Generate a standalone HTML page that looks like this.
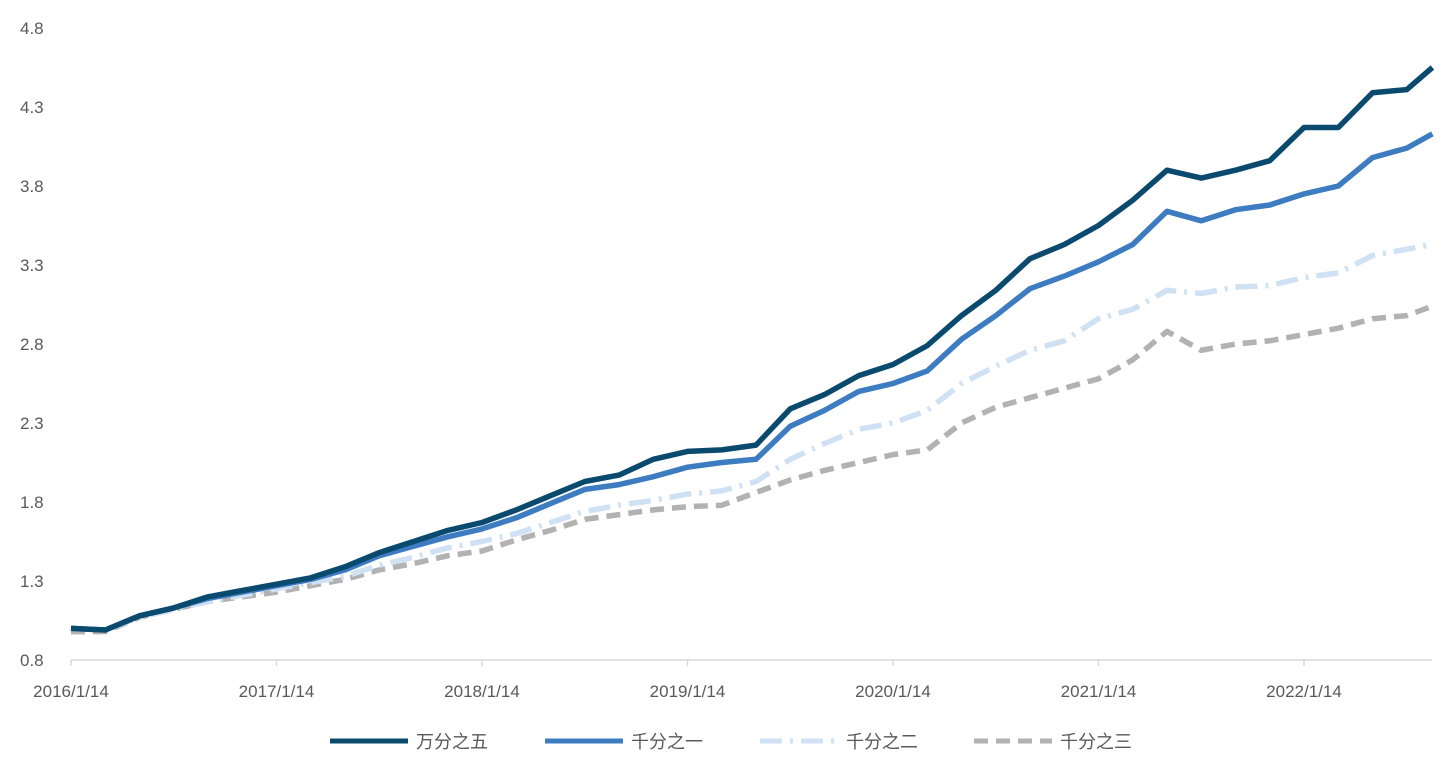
<!DOCTYPE html>
<html><head><meta charset="utf-8"><style>
body{margin:0;background:#fff;width:1452px;height:768px;overflow:hidden;font-family:"Liberation Sans","Noto Sans CJK SC",sans-serif}
</style></head><body>
<svg id="chart" width="1452" height="768" xmlns="http://www.w3.org/2000/svg"></svg>
<script>
const xLabels=["2016/1/14","2017/1/14","2018/1/14","2019/1/14","2020/1/14","2021/1/14","2022/1/14"];
const yTicks=[0.8,1.3,1.8,2.3,2.8,3.3,3.8,4.3,4.8];
const months=[0,2,4,6,8,10,12,14,16,18,20,22,24,26,28,30,32,34,36,38,40,42,44,46,48,50,52,54,56,58,60,62,64,66,68,70,72,74,76,78,79.5];
const s1=[1.0,0.99,1.08,1.13,1.2,1.24,1.28,1.32,1.39,1.48,1.55,1.62,1.67,1.75,1.84,1.93,1.97,2.07,2.12,2.13,2.16,2.39,2.48,2.6,2.67,2.79,2.98,3.14,3.34,3.43,3.55,3.71,3.9,3.85,3.9,3.96,4.17,4.17,4.39,4.41,4.55];
const s2=[1.0,0.99,1.08,1.13,1.19,1.23,1.27,1.31,1.37,1.46,1.52,1.58,1.63,1.7,1.79,1.88,1.91,1.96,2.02,2.05,2.07,2.28,2.38,2.5,2.55,2.63,2.83,2.98,3.15,3.23,3.32,3.43,3.64,3.58,3.65,3.68,3.75,3.8,3.98,4.04,4.13];
const s3=[1.0,0.99,1.07,1.12,1.17,1.21,1.25,1.29,1.33,1.4,1.45,1.51,1.55,1.6,1.67,1.74,1.78,1.81,1.85,1.87,1.93,2.07,2.17,2.26,2.3,2.38,2.55,2.66,2.76,2.82,2.96,3.02,3.14,3.12,3.16,3.17,3.22,3.25,3.36,3.4,3.43];
const s4=[0.98,0.98,1.07,1.12,1.17,1.2,1.23,1.27,1.31,1.37,1.41,1.46,1.49,1.56,1.62,1.69,1.72,1.75,1.77,1.78,1.86,1.94,2.0,2.05,2.1,2.13,2.3,2.4,2.46,2.52,2.58,2.7,2.88,2.76,2.8,2.82,2.86,2.9,2.96,2.98,3.04];
const names=["万分之五","千分之一","千分之二","千分之三"];

const NS="http://www.w3.org/2000/svg",svg=document.getElementById('chart');
const X=m=>71+m*(205.5/12);
const Y=v=>660-(v-0.8)*158;
function mk(t,a,p){const e=document.createElementNS(NS,t);for(const k in a)e.setAttribute(k,a[k]);(p||svg).appendChild(e);return e;}

yTicks.forEach(v=>{
  const t=mk('text',{x:20,y:Y(v)+6,'font-size':17,fill:'#595959'});
  t.textContent=v.toFixed(1);
  
  
});
const ax=mk('line',{x1:71,y1:660,x2:1432,y2:660,stroke:'#d9d9d9','stroke-width':1.5});


xLabels.forEach((l,i)=>{
  const x=X(i*12);
  const tk=mk('line',{x1:x,y1:660,x2:x,y2:666,stroke:'#d9d9d9','stroke-width':1.5});
  
  
  const t=mk('text',{x:x,y:697,'font-size':17,fill:'#595959','text-anchor':'middle'});
  t.textContent=l;
  
  
});
const styles=[
 {c:'#0b4a6f',d:''},
 {c:'#3d7cc0',d:''},
 {c:'#cfe1f2',d:'22 8 3 8'},
 {c:'#b2b2b2',d:'14 8'}
];
const series=[s1,s2,s3,s4];
[3,2,1,0].forEach(i=>{
  const d=series[i].map((v,j)=>(j?'L':'M')+X(months[j]).toFixed(1)+','+Y(v).toFixed(1)).join('');
  const p=mk('path',{d:d,fill:'none',stroke:styles[i].c,'stroke-width':5.5,'stroke-linejoin':'round','stroke-dasharray':styles[i].d});
  
  
});
const lx=[330,545,760,974];
names.forEach((n,i)=>{
  const g=mk('g',{});
  
  
  mk('line',{x1:lx[i],y1:741,x2:lx[i]+78,y2:741,stroke:styles[i].c,'stroke-width':5,'stroke-dasharray':styles[i].d},g);
  const t=mk('text',{x:lx[i]+86,y:748,'font-size':18,fill:'#595959'},g);
  t.textContent=n;
});
</script>
</body></html>
